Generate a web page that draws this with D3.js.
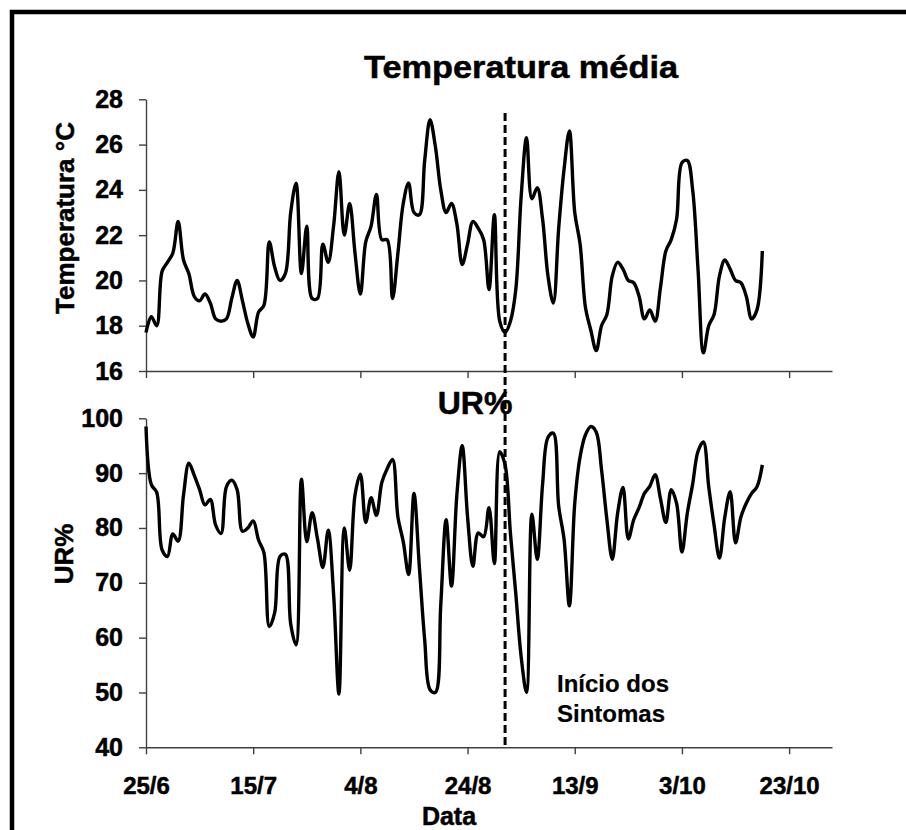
<!DOCTYPE html>
<html lang="pt">
<head>
    <meta charset="UTF-8">
    <script src="https://d3js.org/d3.v7.min.js"></script>
    <style>
        body { margin: 0; background: #fff; font-family: "Liberation Sans", Arial, sans-serif; }
        svg text { font-family: "Liberation Sans", Arial, sans-serif; font-weight: bold; fill: #000;
                   stroke: #000; stroke-width: 0.5px; }
    </style>
</head>
<body>
<svg id="chart" width="906" height="830"></svg>
<script>
    // dados diarios a partir de 25/6
    const startDate = new Date(2010, 5, 25);
    const endDate = new Date(2010, 9, 31);
    const inicioSintomas = new Date(2010, 7, 31);

    const tempMedia = [
        17.7, 18.4, 18.0, 20.4, 20.8, 21.2, 22.6, 20.9, 20.3, 19.3,
        19.1, 19.4, 19.0, 18.3, 18.2, 18.3, 19.2, 20.0, 19.1, 18.1,
        17.5, 18.6, 18.9, 21.7, 20.6, 20.0, 20.3, 23.0, 24.3, 20.3,
        22.4, 19.2, 19.2, 21.6, 20.8, 22.4, 24.8, 22.0, 23.4, 21.2,
        19.4, 21.7, 22.4, 23.8, 21.8, 21.8, 19.2, 21.2, 23.4, 24.3,
        23.0, 22.9, 25.3, 27.1, 25.9, 24.0, 23.0, 23.4, 22.5, 20.7,
        21.6, 22.6, 22.3, 21.8, 19.6, 22.9, 18.2, 17.7, 18.2, 19.6,
        23.7, 26.3, 23.6, 24.1, 22.7, 20.2, 19.0, 22.3, 24.9, 26.6,
        23.0, 21.6, 18.8, 17.8, 16.9, 18.0, 18.5, 20.2, 20.8, 20.5,
        20.0, 19.9, 19.3, 18.3, 18.7, 18.2, 19.7, 21.3, 21.8, 22.7,
        25.2, 25.3, 24.0, 20.5, 16.8, 18.0, 18.5, 20.2, 20.9, 20.5,
        20.0, 19.9, 19.3, 18.3, 18.7, 21.3
    ];

    const urMedia = [
        98.5, 87.9, 86.5, 76.0, 74.8, 78.9, 77.6, 86.0, 91.8, 89.6,
        87.0, 84.2, 85.2, 80.5, 79.0, 87.5, 88.7, 87.0, 79.4, 80.0,
        81.3, 77.8, 75.5, 62.0, 64.5, 74.8, 75.2, 62.5, 58.7, 88.9,
        77.5, 82.8, 78.0, 72.8, 79.6, 68.0, 49.7, 80.0, 72.3, 86.0,
        89.8, 81.0, 85.5, 82.3, 88.3, 90.8, 92.5, 82.0, 77.5, 71.5,
        86.3, 73.0, 59.6, 50.5, 50.0, 66.0, 81.5, 69.4, 86.0, 95.0,
        82.0, 73.0, 79.1, 78.4, 83.7, 73.5, 93.9, 91.5, 79.0, 68.0,
        56.5, 50.0, 82.5, 74.3, 88.0, 96.5, 97.3, 84.0, 78.0, 65.8,
        84.5, 93.0, 97.0, 98.5, 97.5, 90.6, 81.5, 74.3, 82.7, 87.4,
        78.0, 81.5, 83.7, 86.3, 87.6, 89.7, 85.3, 81.0, 87.0, 84.5,
        75.6, 82.7, 88.0, 94.0, 95.7, 87.5, 80.5, 74.5, 82.0, 86.6,
        77.3, 82.0, 84.5, 86.3, 87.5, 91.5
    ];

    const tickDatas = ["25/6", "15/7", "4/8", "24/8", "13/9", "3/10", "23/10"];
    const tempTicks = [16, 18, 20, 22, 24, 26, 28];
    const urTicks = [40, 50, 60, 70, 80, 90, 100];

    const svg = d3.select("#chart");

    // moldura
    svg.append("rect")
        .attr("x", 12).attr("y", 12)
        .attr("width", 1000).attr("height", 1000)
        .attr("fill", "none")
        .attr("stroke", "#000")
        .attr("stroke-width", 4.5);

    const parseDM = s => {
        const [d, m] = s.split("/").map(Number);
        return new Date(2010, m - 1, d);
    };

    const x = d3.scaleTime().domain([startDate, endDate]).range([146, 832]);
    const yT = d3.scaleLinear().domain([16, 28]).range([371, 99.3]);
    const yU = d3.scaleLinear().domain([40, 100]).range([747.3, 418.3]);

    const toSeries = arr => arr.map((v, i) => ({ date: d3.timeDay.offset(startDate, i), value: v }));

    function styleAxis(g, size) {
        g.select(".domain").attr("stroke", "#404040").attr("stroke-width", 1.4);
        g.selectAll(".tick line").attr("stroke", "#404040").attr("stroke-width", 1.4);
        g.selectAll(".tick text").style("font-size", size + "px").attr("fill", "#000");
    }

    // painel temperatura
    const gTy = svg.append("g").attr("transform", "translate(146,0)")
        .call(d3.axisLeft(yT).tickValues(tempTicks).tickSize(7).tickSizeOuter(0).tickPadding(16));
    styleAxis(gTy, 25);

    const gTx = svg.append("g").attr("transform", `translate(0,${yT(16)})`)
        .call(d3.axisBottom(x).tickValues(tickDatas.map(parseDM)).tickSize(7).tickSizeOuter(0).tickFormat(""));
    styleAxis(gTx, 24);

    // painel UR
    const gUy = svg.append("g").attr("transform", "translate(146,0)")
        .call(d3.axisLeft(yU).tickValues(urTicks).tickSize(7).tickSizeOuter(0).tickPadding(16));
    styleAxis(gUy, 25);

    const gUx = svg.append("g").attr("transform", `translate(0,${yU(40)})`)
        .call(d3.axisBottom(x).tickValues(tickDatas.map(parseDM)).tickSize(7).tickSizeOuter(0)
            .tickPadding(23).tickFormat((d, i) => tickDatas[i]));
    styleAxis(gUx, 24);

    const lineT = d3.line().x(d => x(d.date)).y(d => yT(d.value)).curve(d3.curveCatmullRom.alpha(0.5));
    const lineU = d3.line().x(d => x(d.date)).y(d => yU(d.value)).curve(d3.curveCatmullRom.alpha(0.5));

    svg.append("path")
        .datum(toSeries(tempMedia))
        .attr("d", lineT)
        .attr("fill", "none")
        .attr("stroke", "#000")
        .attr("stroke-width", 3.4);

    svg.append("path")
        .datum(toSeries(urMedia))
        .attr("d", lineU)
        .attr("fill", "none")
        .attr("stroke", "#000")
        .attr("stroke-width", 3.4);

    // linha do inicio dos sintomas
    svg.append("line")
        .attr("x1", x(inicioSintomas)).attr("x2", x(inicioSintomas))
        .attr("y1", 113).attr("y2", yU(40))
        .attr("stroke", "#000")
        .attr("stroke-width", 3)
        .attr("stroke-dasharray", "8,4");

    // textos
    svg.append("text")
        .attr("x", 521).attr("y", 78)
        .attr("text-anchor", "middle")
        .attr("textLength", 314).attr("lengthAdjust", "spacingAndGlyphs")
        .style("font-size", "32px")
        .text("Temperatura média");

    svg.append("text")
        .attr("x", 475).attr("y", 414)
        .attr("text-anchor", "middle")
        .style("font-size", "32px")
        .text("UR%");

    svg.append("text")
        .attr("transform", "translate(74,218) rotate(-90)")
        .attr("text-anchor", "middle")
        .style("font-size", "26px")
        .text("Temperatura °C");

    svg.append("text")
        .attr("transform", "translate(73,554) rotate(-90)")
        .attr("text-anchor", "middle")
        .style("font-size", "26px")
        .text("UR%");

    svg.append("text")
        .attr("x", 449).attr("y", 825)
        .attr("text-anchor", "middle")
        .style("font-size", "25px")
        .text("Data");

    const nota = svg.append("text")
        .attr("x", 557).attr("y", 692)
        .style("font-size", "24px")
        .style("stroke-width", "0.2px");
    nota.append("tspan").attr("x", 557).text("Início dos");
    nota.append("tspan").attr("x", 557).attr("dy", 30).text("Sintomas");
</script>
</body>
</html>
